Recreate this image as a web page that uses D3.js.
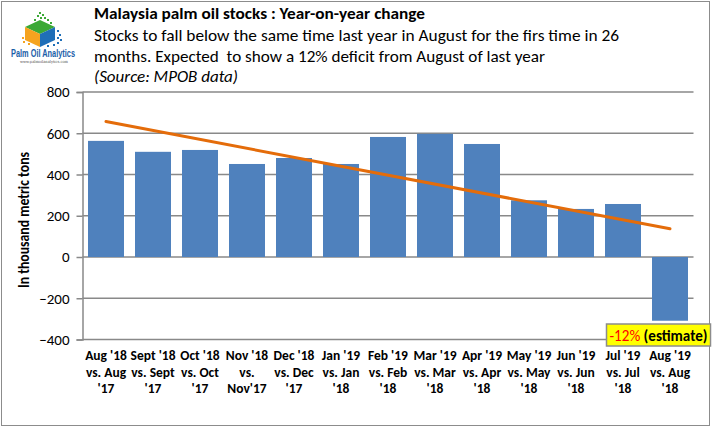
<!DOCTYPE html>
<html>
<head>
<meta charset="utf-8">
<script src="https://cdn.jsdelivr.net/npm/d3@7"></script>
<style>
  html, body { margin: 0; padding: 0; background: #fff; }
  svg { display: block; font-family: Carlito, Calibri, Lato, sans-serif; }
</style>
</head>
<body>
<div id="chart"></div>
<script>
// Malaysia palm oil stocks, year-on-year change (thousand tonnes)

const categories = ["Aug18", "Sep18", "Oct18", "Nov18", "Dec18", "Jan19", "Feb19",
  "Mar19", "Apr19", "May19", "Jun19", "Jul19", "Aug19"];

const categoryLabels = [
  ["Aug '18", "vs. Aug", "'17"],
  ["Sept '18", "vs. Sept", "'17"],
  ["Oct '18", "vs. Oct", "'17"],
  ["Nov '18", "vs.", "Nov'17"],
  ["Dec '18", "vs. Dec", "'17"],
  ["Jan '19", "vs. Jan", "'18"],
  ["Feb '19", "vs. Feb", "'18"],
  ["Mar '19", "vs. Mar", "'18"],
  ["Apr '19", "vs. Apr", "'18"],
  ["May '19", "vs. May", "'18"],
  ["Jun '19", "vs. Jun", "'18"],
  ["Jul '19", "vs. Jul", "'18"],
  ["Aug '19", "vs. Aug", "'18"]
];

const stockChange = [563, 510, 519, 451, 480, 451, 582, 597, 548, 275, 233, 257, -309];

const yTicks = [-400, -200, 0, 200, 400, 600, 800];

const titleText = "Malaysia palm oil stocks : Year-on-year change";
const subtitleLines = [
  "Stocks to fall below the same time last year in August for the firs time in 26",
  "months. Expected  to show a 12% deficit from August of last year"
];
const sourceText = "(Source: MPOB data)";

const width = 713, height = 428;
const barColor = "#4F81BD";
const trendColor = "#E46C0A";
const gridColor = "#898989";

const svg = d3.select("#chart").append("svg")
  .attr("width", width)
  .attr("height", height);

// outer frame
svg.append("rect")
  .attr("x", 1.5).attr("y", 1.5)
  .attr("width", 708).attr("height", 424)
  .attr("fill", "#fff")
  .attr("stroke", "#8c8c8c")
  .attr("stroke-width", 1);

// scales
const x = d3.scaleBand()
  .domain(categories)
  .range([82.5, 693.5])
  .paddingInner(0.234)
  .paddingOuter(0.117);

const y = d3.scaleLinear()
  .domain([-400, 800])
  .range([339.5, 92]);

// gridlines
svg.append("g")
  .selectAll("line")
  .data(yTicks)
  .join("line")
  .attr("x1", 82.5).attr("x2", 693.5)
  .attr("y1", d => y(d)).attr("y2", d => y(d))
  .attr("stroke", gridColor)
  .attr("stroke-width", 1.5);

// y axis
const yAxis = svg.append("g")
  .attr("transform", "translate(82.5,0)")
  .call(d3.axisLeft(y).tickValues(yTicks).tickSize(6).tickPadding(7));
yAxis.select(".domain").attr("stroke", gridColor).attr("stroke-width", 1.5);
yAxis.selectAll(".tick line").attr("stroke", gridColor).attr("stroke-width", 1.5);
yAxis.selectAll(".tick text")
  .attr("font-family", "Carlito, Calibri, Lato, sans-serif")
  .attr("font-size", 15)
  .attr("fill", "#000");

// y axis title
svg.append("text")
  .attr("transform", "translate(29,220) rotate(-90)")
  .attr("text-anchor", "middle")
  .attr("font-size", 15.5)
  .attr("font-weight", "bold")
  .attr("textLength", 136)
  .attr("lengthAdjust", "spacingAndGlyphs")
  .text("In thousand metric tons");

// bars
svg.append("g")
  .selectAll("rect")
  .data(stockChange)
  .join("rect")
  .attr("x", (d, i) => x(categories[i]))
  .attr("width", x.bandwidth())
  .attr("y", d => y(Math.max(0, d)))
  .attr("height", d => Math.abs(y(d) - y(0)))
  .attr("fill", barColor);

// linear trendline (least squares over the bar values)
const n = stockChange.length;
const idx = d3.range(n);
const meanX = d3.mean(idx), meanY = d3.mean(stockChange);
const slope = d3.sum(idx, i => (i - meanX) * (stockChange[i] - meanY)) /
  d3.sum(idx, i => (i - meanX) ** 2);
const intercept = meanY - slope * meanX;
const cx = i => x(categories[i]) + x.bandwidth() / 2;

svg.append("line")
  .attr("x1", cx(0)).attr("y1", y(intercept))
  .attr("x2", cx(n - 1)).attr("y2", y(intercept + slope * (n - 1)))
  .attr("stroke", trendColor)
  .attr("stroke-width", 3)
  .attr("stroke-linecap", "round");

// x labels
const xl = svg.append("g")
  .selectAll("text")
  .data(categoryLabels)
  .join("text")
  .attr("x", (d, i) => cx(i))
  .attr("text-anchor", "middle")
  .attr("font-size", 13.5)
  .attr("font-weight", "bold");
xl.selectAll("tspan")
  .data(d => d)
  .join("tspan")
  .attr("x", function () { return d3.select(this.parentNode).attr("x"); })
  .attr("y", (d, j) => 360 + j * 16.5)
  .text(d => d);

// estimate annotation box
const last = n - 1;
const boxX = cx(last) - 63.5;
svg.append("rect")
  .attr("x", boxX).attr("y", 324)
  .attr("width", 104).attr("height", 22)
  .attr("fill", "#FFFF00")
  .attr("stroke", "#8c8c8c")
  .attr("stroke-width", 1.5);
const est = svg.append("text")
  .attr("x", boxX + 3).attr("y", 340.5)
  .attr("font-size", 16)
  .attr("textLength", 98)
  .attr("lengthAdjust", "spacingAndGlyphs");
est.append("tspan").attr("fill", "#FF0000").text("-12%");
est.append("tspan").attr("fill", "#000").attr("font-weight", "bold").text(" (estimate)");

// title block
svg.append("text")
  .attr("x", 94).attr("y", 18.5)
  .attr("font-size", 16)
  .attr("font-weight", "bold")
  .attr("textLength", 331)
  .attr("lengthAdjust", "spacingAndGlyphs")
  .text(titleText);
const subWidths = [525, 451];
svg.append("g")
  .selectAll("text")
  .data(subtitleLines)
  .join("text")
  .attr("x", 94)
  .attr("y", (d, i) => 40.5 + i * 21)
  .attr("font-size", 16)
  .attr("xml:space", "preserve")
  .attr("textLength", (d, i) => subWidths[i])
  .attr("lengthAdjust", "spacingAndGlyphs")
  .text(d => d);
svg.append("text")
  .attr("x", 94).attr("y", 81.5)
  .attr("font-size", 16)
  .attr("font-style", "italic")
  .attr("textLength", 144)
  .attr("lengthAdjust", "spacingAndGlyphs")
  .text(sourceText);

// logo: pixel cube
const logo = svg.append("g");
logo.append("path").attr("d", "M40,20 L55,27 L40,34 L25,27 Z").attr("fill", "#3BA935");
logo.append("path").attr("d", "M25,27 L40,34 L40,47 L25,40 Z").attr("fill", "#F5A31F");
logo.append("path").attr("d", "M40,34 L55,27 L55,40 L40,47 Z").attr("fill", "#1F6FB8");
const dots = [[39,12,"#3BA935"],[42,14,"#3BA935"],[37,15,"#3BA935"],[44,17,"#3BA935"],[40,17,"#3BA935"],
  [47,19,"#3BA935"],[34,19,"#3BA935"],[50,22,"#3BA935"],[57,30,"#1F6FB8"],[59,34,"#1F6FB8"],
  [57,37,"#1F6FB8"],[60,39,"#1F6FB8"],[57,42,"#1F6FB8"],[53,44,"#1F6FB8"],[22,37,"#F5A31F"],
  [23,41,"#F5A31F"],[28,43,"#F5A31F"],[47,45,"#1F6FB8"]];
logo.selectAll("rect").data(dots).join("rect")
  .attr("x", d => d[0]).attr("y", d => d[1])
  .attr("width", 2).attr("height", 2)
  .attr("fill", d => d[2]);
logo.append("text")
  .attr("x", 11).attr("y", 57)
  .attr("font-family", "'Liberation Sans Narrow', 'Liberation Sans', Arial, sans-serif")
  .attr("font-size", 10)
  .attr("font-weight", "bold")
  .attr("fill", "#1B5EA8")
  .attr("textLength", 64)
  .attr("lengthAdjust", "spacingAndGlyphs")
  .text("Palm Oil Analytics");
logo.append("text")
  .attr("x", 20).attr("y", 62.5)
  .attr("font-family", "'DejaVu Serif', serif")
  .attr("font-size", 4)
  .attr("fill", "#555")
  .attr("textLength", 48)
  .attr("lengthAdjust", "spacingAndGlyphs")
  .text("www.palmoilanalytics.com");
</script>
</body>
</html>
